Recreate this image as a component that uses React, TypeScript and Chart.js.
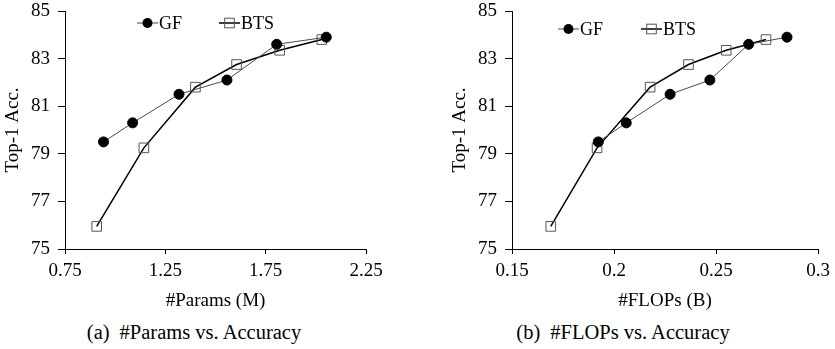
import React, { useEffect, useRef } from "react";
import { Chart, registerables } from "chart.js";
Chart.register(...registerables);

// ---- data ----
const seriesNames = ["GF", "BTS"];
const gfParams = [0.942, 1.087, 1.318, 1.557, 1.805, 2.052];
const gfFlops = [0.1923, 0.206, 0.2275, 0.247, 0.266, 0.2848];
const gfAcc = [79.5, 80.3, 81.5, 82.1, 83.6, 83.9];
const btsParams = [0.908, 1.143, 1.4, 1.605, 1.82, 2.03];
const btsFlops = [0.169, 0.1917, 0.2177, 0.2365, 0.255, 0.2745];
const btsAcc = [75.95, 79.25, 81.8, 82.75, 83.35, 83.8];
const accTicks = [75, 77, 79, 81, 83, 85];
const paramTicks = [0.75, 1.25, 1.75, 2.25];
const flopTicks = [0.15, 0.2, 0.25, 0.3];

const FONT = "Liberation Serif, DejaVu Serif, serif";

const styles = [
  { line: "#4a4a4a", lineWidth: 1, point: "circle", radius: 5, fill: "#000", stroke: "#000" },
  { line: "#000", lineWidth: 1.5, point: "rect", radius: 6.8, fill: "rgba(0,0,0,0)", stroke: "#555" },
];

const legendPlugin = {
  id: "pairLegend",
  afterDatasetsDraw(chart: any, _args: any, opts: any) {
    const { ctx, chartArea } = chart;
    const y = chartArea.top + opts.dy;
    opts.dx.forEach((dx: number, i: number) => {
      const st = styles[i];
      const x0 = chartArea.left + dx;
      ctx.save();
      ctx.strokeStyle = st.line;
      ctx.lineWidth = st.lineWidth;
      ctx.beginPath();
      ctx.moveTo(x0, y);
      ctx.lineTo(x0 + 21, y);
      ctx.stroke();
      const cx = x0 + 10.5;
      if (st.point === "circle") {
        ctx.fillStyle = st.fill;
        ctx.beginPath();
        ctx.arc(cx, y, st.radius, 0, Math.PI * 2);
        ctx.fill();
      } else {
        const s = Math.SQRT1_2 * st.radius;
        ctx.strokeStyle = st.stroke;
        ctx.lineWidth = 1;
        ctx.strokeRect(cx - s, y - s, 2 * s, 2 * s);
      }
      ctx.fillStyle = "#000";
      ctx.font = `18px ${FONT}`;
      ctx.textBaseline = "middle";
      ctx.textAlign = "left";
      ctx.fillText(seriesNames[i], x0 + 22, y + 1);
      ctx.restore();
    });
  },
};

type PanelProps = {
  gfX: number[];
  btsX: number[];
  xTicks: number[];
  xTitle: string;
  width: number;
  padLeft: number;
  padRight: number;
  legendDx: number[];
  legendDy: number;
};

function Panel(p: PanelProps) {
  const ref = useRef<HTMLCanvasElement | null>(null);
  useEffect(() => {
    if (!ref.current) return;
    const mk = (xs: number[], ys: number[]) => xs.map((x, i) => ({ x, y: ys[i] }));
    const datasets = [mk(p.gfX, gfAcc), mk(p.btsX, btsAcc)].map((data, i) => ({
      label: seriesNames[i],
      data,
      showLine: true,
      borderColor: styles[i].line,
      borderWidth: styles[i].lineWidth,
      pointStyle: styles[i].point,
      pointRadius: styles[i].radius,
      pointBackgroundColor: styles[i].fill,
      pointBorderColor: styles[i].stroke,
      pointBorderWidth: 1,
      fill: false,
      tension: 0,
    }));
    const tickFont = { family: FONT, size: 19 };
    const chart = new Chart(ref.current, {
      type: "scatter",
      data: { datasets },
      plugins: [legendPlugin],
      options: {
        responsive: false,
        animation: false,
        devicePixelRatio: 1,
        layout: { padding: { left: p.padLeft, right: p.padRight, top: 11, bottom: 0 } },
        plugins: {
          legend: { display: false },
          tooltip: { enabled: false },
          pairLegend: { dx: p.legendDx, dy: p.legendDy },
        } as any,
        scales: {
          x: {
            type: "linear",
            min: p.xTicks[0],
            max: p.xTicks[p.xTicks.length - 1],
            afterBuildTicks: (s: any) => {
              s.ticks = p.xTicks.map((v) => ({ value: v }));
            },
            afterFit: (s: any) => {
              s.height = 66;
              s.paddingLeft = 0;
              s.paddingRight = 0;
            },
            grid: { drawOnChartArea: false, drawTicks: true, tickLength: 5, color: "#000" },
            border: { color: "#000", width: 1 },
            ticks: {
              color: "#000",
              font: tickFont,
              padding: 6,
              maxRotation: 0,
              callback: (v: any) => String(Number(Number(v).toFixed(2))),
            },
            title: {
              display: true,
              text: p.xTitle,
              color: "#000",
              font: { family: FONT, size: 19 },
              padding: { top: 0, bottom: 3 },
            },
          },
          y: {
            type: "linear",
            min: accTicks[0],
            max: accTicks[accTicks.length - 1],
            afterBuildTicks: (s: any) => {
              s.ticks = accTicks.map((v) => ({ value: v }));
            },
            afterFit: (s: any) => {
              s.width = 65;
              s.paddingTop = 0;
              s.paddingBottom = 0;
            },
            grid: { drawOnChartArea: false, drawTicks: true, tickLength: 7, color: "#000" },
            border: { color: "#000", width: 1 },
            ticks: { color: "#000", font: tickFont, padding: 8 },
            title: {
              display: true,
              text: "Top-1 Acc.",
              color: "#000",
              font: { family: FONT, size: 19 },
              padding: { top: 2, bottom: 0 },
            },
          },
        },
      } as any,
    });
    return () => chart.destroy();
  }, []);
  return <canvas ref={ref} width={p.width} height={315} style={{ display: "block" }} />;
}

const captionStyle: React.CSSProperties = {
  position: "absolute",
  top: 320,
  transform: "translateX(-50%)",
  whiteSpace: "nowrap",
  fontFamily: FONT,
  fontSize: 20.5,
  lineHeight: "24px",
  color: "#000",
};

export default function App() {
  return (
    <div
      style={{
        position: "fixed",
        left: 0,
        top: 0,
        width: 835,
        height: 349,
        background: "#fff",
        overflow: "hidden",
      }}
    >
      <div style={{ position: "absolute", left: 0, top: 0 }}>
        <Panel
          gfX={gfParams}
          btsX={btsParams}
          xTicks={paramTicks}
          xTitle="#Params (M)"
          width={415}
          padLeft={0}
          padRight={49}
          legendDx={[72, 154]}
          legendDy={12}
        />
      </div>
      <div style={{ position: "absolute", left: 415, top: 0 }}>
        <Panel
          gfX={gfFlops}
          btsX={btsFlops}
          xTicks={flopTicks}
          xTitle="#FLOPs (B)"
          width={420}
          padLeft={32}
          padRight={17}
          legendDx={[46, 129]}
          legendDy={18}
        />
      </div>
      <div style={{ ...captionStyle, left: 194 }}>
        <span style={{ marginRight: 10 }}>(a)</span>#Params vs. Accuracy
      </div>
      <div style={{ ...captionStyle, left: 623 }}>
        <span style={{ marginRight: 10 }}>(b)</span>#FLOPs vs. Accuracy
      </div>
    </div>
  );
}
